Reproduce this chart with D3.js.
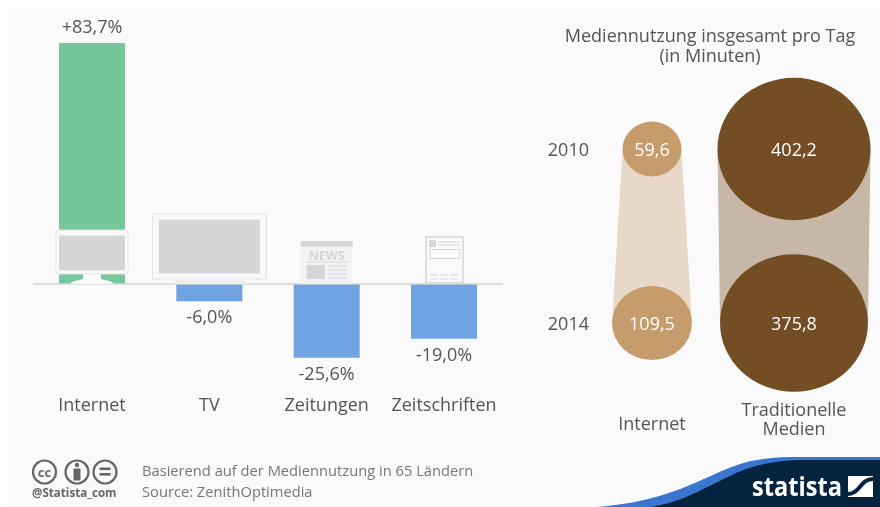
<!DOCTYPE html>
<meta charset="utf-8">
<style>
html, body { margin: 0; padding: 0; background: #fff; }
svg { display: block; font-family: "Open Sans", sans-serif; filter: blur(0.3px); }
svg text { fill: #555; }
.axis path, .axis line { display: none; }
.axis text { font-family: "Open Sans", sans-serif; font-size: 18px; fill: #555; }
.bubble-label { fill: #fff; font-size: 18px; text-anchor: middle; }
.icon-line { stroke: #d6d6d6; fill: none; }
</style>
<svg width="880" height="507"></svg>
<script src="https://d3js.org/d3.v7.min.js"></script>
<script>
var categories = ["Internet", "TV", "Zeitungen", "Zeitschriften"];
var changes = [83.7, -6.0, -25.6, -19.0];
var years = ["2010", "2014"];
var mediaTypes = ["Internet", "Traditionelle Medien"];
var internetMinutes = [59.6, 109.5];
var traditionalMinutes = [402.2, 375.8];

var de = d3.formatLocale({decimal: ",", thousands: ".", grouping: [3], currency: ["", " €"], minus: "-"});
var fmtPct = de.format("+.1f");
var fmtMin = de.format(".1f");

var svg = d3.select("svg");

// panel + footer wave
svg.append("rect").attr("x", 9).attr("y", 8).attr("width", 871).attr("height", 499).attr("fill", "#fafafa");
svg.append("path").attr("fill", "#3a76cf")
  .attr("d", "M596,507 C650,503 680,490 715,474 C735,465 750,458 790,457 L880,457 L880,507 Z");
svg.append("path").attr("fill", "#04233f")
  .attr("d", "M650,507 C680,503 700,490 730,476 C750,466 770,461 800,460 L880,460 L880,507 Z");

// left chart
var x = d3.scaleBand().domain(categories).range([59, 477]).paddingInner(0.4375);
var y = d3.scaleLinear().domain([0, 83.7]).range([284, 43]);

svg.selectAll(".bar")
  .data(changes)
  .enter().append("rect")
  .attr("class", "bar")
  .attr("x", function(d, i) { return x(categories[i]); })
  .attr("width", x.bandwidth())
  .attr("y", function(d) { return Math.min(y(d), y(0)); })
  .attr("height", function(d) { return Math.abs(y(d) - y(0)); })
  .attr("fill", function(d) { return d > 0 ? "#75c799" : "#70a3e2"; });

svg.append("line").attr("x1", 33).attr("x2", 503).attr("y1", y(0)).attr("y2", y(0))
  .attr("stroke", "#d4d4d4").attr("stroke-width", 1.5);

svg.selectAll(".bar-label")
  .data(changes)
  .enter().append("text")
  .attr("class", "bar-label")
  .attr("x", function(d, i) { return x(categories[i]) + x.bandwidth() / 2; })
  .attr("y", function(d) { return d > 0 ? y(d) - 10 : y(d) + 22; })
  .attr("text-anchor", "middle")
  .attr("font-size", 18)
  .text(function(d) { return fmtPct(d) + "%"; });

svg.append("g").attr("class", "axis")
  .attr("transform", "translate(0," + y(0) + ")")
  .call(d3.axisBottom(x).tickSize(0).tickPadding(114));

// icons sit on the baseline, centred on their bar
function centre(name) { return x(name) + x.bandwidth() / 2; }

var mon = svg.append("g").attr("transform", "translate(" + centre("Internet") + "," + y(0) + ")");
mon.append("path").attr("fill", "#fafafa")
  .attr("d", "M-9,-10 L-9,-5 C-14,-4 -20,-3 -22,0 L22,0 C20,-3 14,-4 9,-5 L9,-10 Z");
mon.append("rect").attr("x", -36).attr("y", -54).attr("width", 72).attr("height", 44).attr("rx", 3)
  .attr("fill", "#fafafa").attr("stroke", "#e4e4e4");
mon.append("rect").attr("x", -33).attr("y", -48.5).attr("width", 66).attr("height", 35).attr("fill", "#d6d6d6");

var tv = svg.append("g").attr("transform", "translate(" + centre("TV") + "," + y(0) + ")");
tv.append("rect").attr("x", -57).attr("y", -70).attr("width", 114).attr("height", 65)
  .attr("fill", "#fafafa").attr("stroke", "#e2e2e2");
tv.append("rect").attr("x", -50.5).attr("y", -64.5).attr("width", 101).attr("height", 54).attr("fill", "#d6d6d6");
tv.append("path").attr("fill", "#eee").attr("d", "M-40,0 L-33,-4 L33,-4 L40,0 Z");

var news = svg.append("g").attr("transform", "translate(" + centre("Zeitungen") + "," + y(0) + ")");
news.append("rect").attr("x", -26).attr("y", -43).attr("width", 52).attr("height", 43).attr("fill", "#f3f3f3");
news.append("rect").attr("x", -26).attr("y", -43).attr("width", 52).attr("height", 5.5).attr("fill", "#d6d6d6");
news.append("text").attr("x", 0).attr("y", -24.5).attr("text-anchor", "middle").attr("font-size", 12.5)
  .attr("font-weight", 700).style("fill", "#d6d6d6").text("NEWS");
news.append("line").attr("class", "icon-line").attr("x1", -21).attr("x2", 21).attr("y1", -22).attr("y2", -22);
news.append("rect").attr("x", -20).attr("y", -19).attr("width", 18).attr("height", 14).attr("fill", "#d6d6d6");
[-18, -14, -10, -6].forEach(function(ly) {
  news.append("line").attr("class", "icon-line").attr("x1", 1).attr("x2", 20).attr("y1", ly).attr("y2", ly);
});

var mag = svg.append("g").attr("transform", "translate(" + centre("Zeitschriften") + "," + y(0) + ")");
mag.append("rect").attr("x", -18).attr("y", -47).attr("width", 37).attr("height", 46)
  .attr("fill", "#fafafa").attr("stroke", "#d6d6d6").attr("stroke-width", 1.5);
mag.append("rect").attr("x", -15).attr("y", -44).attr("width", 7).attr("height", 7).attr("fill", "#d6d6d6");
[-42, -39].forEach(function(ly) {
  mag.append("line").attr("class", "icon-line").attr("x1", -6).attr("x2", 16).attr("y1", ly).attr("y2", ly);
});
mag.append("rect").attr("class", "icon-line").attr("x", -14).attr("y", -34.5).attr("width", 30).attr("height", 9);
[-9, -5].forEach(function(ly) {
  mag.append("line").attr("class", "icon-line").attr("x1", -14).attr("x2", 16).attr("y1", ly).attr("y2", ly)
    .attr("stroke-dasharray", "8 2");
});

// right chart, the source image is squeezed a bit so the bubbles are ellipses
var squeeze = 0.93;
var cx = d3.scalePoint().domain(mediaTypes).range([652, 794]);
var cy = d3.scalePoint().domain(years).range([149, 323]);
var r = d3.scaleSqrt().domain([0, 402.2]).range([0, 76.5]);

var bubbleSeries = [
  {name: mediaTypes[0], values: internetMinutes, dark: "#c69c6d", light: "#e8d8c7"},
  {name: mediaTypes[1], values: traditionalMinutes, dark: "#734d23", light: "#c6b7a7"}
];

bubbleSeries.forEach(function(s) {
  var c = cx(s.name);
  var corners = [
    [c - r(s.values[0]), cy(years[0])],
    [c + r(s.values[0]), cy(years[0])],
    [c + r(s.values[1]), cy(years[1])],
    [c - r(s.values[1]), cy(years[1])]
  ];
  svg.append("polygon").attr("points", corners.join(" ")).attr("fill", s.light);
  s.values.forEach(function(v, i) {
    svg.append("ellipse").attr("cx", c).attr("cy", cy(years[i]))
      .attr("rx", r(v)).attr("ry", r(v) * squeeze).attr("fill", s.dark);
    svg.append("text").attr("class", "bubble-label").attr("x", c).attr("y", cy(years[i]) + 7)
      .style("fill", "#fff").text(fmtMin(v));
  });
});

svg.append("g").attr("class", "axis")
  .attr("transform", "translate(589,1)")
  .call(d3.axisLeft(cy).tickSize(0).tickPadding(0));

svg.append("text").attr("x", cx(mediaTypes[0])).attr("y", 430).attr("text-anchor", "middle").attr("font-size", 18).text("Internet");

var tradLabel = svg.append("text").attr("text-anchor", "middle").attr("font-size", 18);
tradLabel.append("tspan").attr("x", cx(mediaTypes[1])).attr("y", 416).text("Traditionelle");
tradLabel.append("tspan").attr("x", cx(mediaTypes[1])).attr("y", 435).text("Medien");

var title = svg.append("text").attr("text-anchor", "middle").attr("font-size", 18);
title.append("tspan").attr("x", 710).attr("y", 42).text("Mediennutzung insgesamt pro Tag");
title.append("tspan").attr("x", 710).attr("y", 62).text("(in Minuten)");

// footer
svg.append("text").attr("x", 142).attr("y", 476).attr("font-size", 14.7).style("fill", "#777").text("Basierend auf der Mediennutzung in 65 Ländern");
svg.append("text").attr("x", 142).attr("y", 497).attr("font-size", 14.7).style("fill", "#777").text("Source: ZenithOptimedia");
svg.append("text").attr("x", 32).attr("y", 497).attr("font-size", 11.6).attr("font-weight", 700).style("fill", "#666").text("@Statista_com");

var cc = svg.append("g").attr("fill", "none").attr("stroke", "#666").attr("stroke-width", 2.2);
[44.5, 77, 105].forEach(function(ix) {
  cc.append("circle").attr("cx", ix).attr("cy", 472).attr("r", 11.5);
});
svg.append("text").attr("x", 44.5).attr("y", 476.5).attr("text-anchor", "middle").attr("font-size", 13).attr("font-weight", 700).style("fill", "#666").text("cc");
svg.append("circle").attr("cx", 77).attr("cy", 465).attr("r", 2.2).attr("fill", "#666");
svg.append("rect").attr("x", 73.5).attr("y", 468.5).attr("width", 7).attr("height", 12).attr("fill", "#666");
svg.append("rect").attr("x", 99.5).attr("y", 467.5).attr("width", 11).attr("height", 2.6).attr("fill", "#666");
svg.append("rect").attr("x", 99.5).attr("y", 473).attr("width", 11).attr("height", 2.6).attr("fill", "#666");

svg.append("text").attr("x", 752).attr("y", 496).attr("font-size", 27).attr("font-weight", 700)
  .attr("textLength", 90).attr("lengthAdjust", "spacingAndGlyphs")
  .style("fill", "#fff").text("statista");
svg.append("rect").attr("x", 848).attr("y", 476).attr("width", 25).attr("height", 21).attr("fill", "#fff");
svg.append("path").attr("fill", "none").attr("stroke", "#04233f").attr("stroke-width", 4)
  .attr("d", "M848,494 C860,494 860,479 873,479");
</script>
